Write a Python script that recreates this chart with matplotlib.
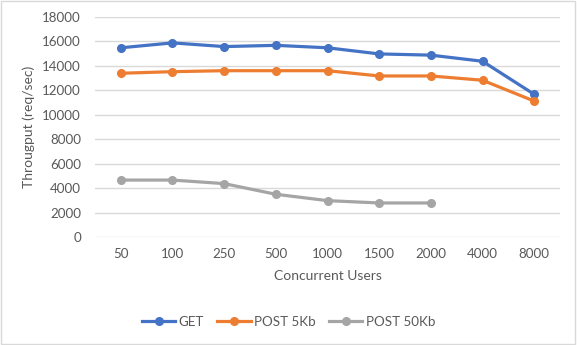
import matplotlib.pyplot as plt
from matplotlib.patches import Rectangle

users = ['50', '100', '250', '500', '1000', '1500', '2000', '4000', '8000']
get_rps = [15450, 15850, 15550, 15650, 15450, 14950, 14850, 14350, 11650]
post5_rps = [13370, 13500, 13580, 13580, 13580, 13150, 13150, 12800, 11100]
post50_rps = [4650, 4650, 4360, 3490, 2970, 2780, 2780]

plt.rcParams['font.family'] = ['Lato', 'DejaVu Sans']
txt = '#595959'

fig = plt.figure(figsize=(5.77, 3.45), dpi=100)
ax = fig.add_axes([0.1646, 0.313, 0.806, 0.639])

x = list(range(len(users)))
ax.plot(x, get_rps, color='#4472C4', lw=2.3, marker='o', ms=5.5, label='GET')
ax.plot(x, post5_rps, color='#ED7D31', lw=2.3, marker='o', ms=5.5, label='POST 5Kb')
ax.plot(x[:len(post50_rps)], post50_rps, color='#A5A5A5', lw=2.3, marker='o', ms=5.5,
        label='POST 50Kb')

ax.set_xlim(-0.5, len(users) - 0.5)
ax.set_ylim(0, 18000)
ax.set_yticks(range(0, 18001, 2000))
ax.set_xticks(x)
ax.set_xticklabels(users)
ax.grid(axis='y', color='#D9D9D9', lw=1)
ax.set_axisbelow(True)
for s in ax.spines.values():
    s.set_visible(False)
ax.tick_params(length=0, colors=txt, labelsize=9.6)
ax.tick_params(axis='y', pad=10)
ax.tick_params(axis='x', pad=8)
ax.set_xlabel('Concurrent Users', color=txt, fontsize=10, labelpad=7)
ax.set_ylabel('Througput (req/sec)', color=txt, fontsize=10, labelpad=5)

fig.legend(loc='center', bbox_to_anchor=(0.5, 0.067), ncol=3, frameon=False,
           fontsize=9.6, labelcolor=txt, handlelength=2.5, handletextpad=0.25,
           columnspacing=1.0)

# chart border
fig.patches.append(Rectangle((0.002, 0.004), 0.994, 0.992, transform=fig.transFigure,
                             fill=False, edgecolor='#D9D9D9', lw=1))

fig.savefig('out.png', dpi=100)
